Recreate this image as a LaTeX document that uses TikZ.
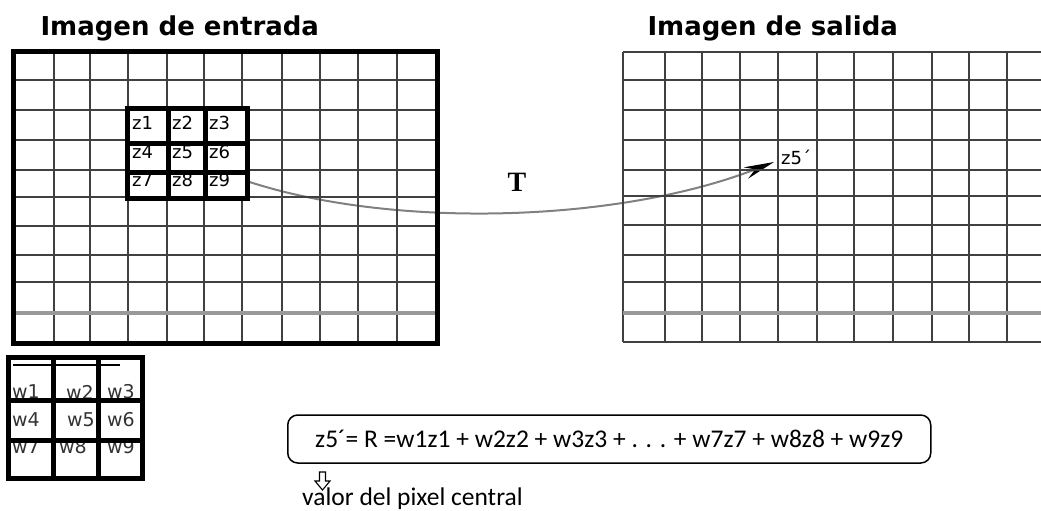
\documentclass[tikz,border=0pt]{standalone}
\usepackage{fontspec}
\setmainfont{DejaVu Sans}
\newfontfamily\calibri{Carlito}
\newfontfamily\serifT{Liberation Serif}
\usetikzlibrary{arrows.meta}

\pgfdeclarelayer{fondo}
\pgfsetlayers{fondo,main}

\newcommand{\fuenteec}{\calibri\fontsize{25.5}{28}\selectfont}

\begin{document}
\begin{tikzpicture}[
      x=1pt, y=-1pt,
      rejilla/.style={draw=black!75, line width=1.9pt},
      gris/.style={draw=black!40, line width=4.5pt},
      marco/.style={draw=black, line width=5pt, line join=miter},
      titulo/.style={anchor=base west, font=\fontsize{26}{30}\selectfont\bfseries},
      zlbl/.style={anchor=west, inner sep=0pt, font=\fontsize{18}{20}\selectfont},
      wlbl/.style={anchor=west, inner sep=0pt, text=black!80, font=\fontsize{19}{21}\selectfont},
      flecha/.style={draw=black!50, line width=2pt, -{Stealth[length=30pt, width=12pt, color=black]}},
      ecuacion/.style={draw, line width=1.5pt, rounded corners=10pt, minimum height=48pt,
        inner xsep=0pt, minimum width=643pt}
    ]
      \useasboundingbox (0,0) rectangle (1041,511);

      % titulos
      \node[titulo] (entrada) at (37,36) {Imagen de entrada};
      \node[titulo] (salida) at (644,36) {Imagen de salida};

      % imagen de entrada
      \foreach \x in {54,90,128,167,204,242,282,320,358,397}
        \draw[rejilla] (\x,52) -- (\x,343);
      \foreach \y in {80,110,140,170,197,226,255,282}
        \draw[rejilla] (13,\y) -- (437,\y);
      \draw[gris] (13,313) -- (437,313);
      \draw[marco] (13,52) rectangle (437,343);

      % imagen de salida
      \foreach \x in {623,665,702,740,778,817,854,893,932,969,1007}
        \draw[rejilla] (\x,52) -- (\x,342);
      \foreach \y in {52,80,110,140,170,196,225,255,282,342}
        \draw[rejilla] (623,\y) -- (1041,\y);
      \draw[gris] (623,313) -- (1041,313);

      % vecindad z
      \fill[white] (127,108) rectangle (247,198);
      \node[zlbl] (z1) at (132,123) {z1};
      \node[zlbl] (z2) at (172,123) {z2};
      \node[zlbl] (z3) at (209,123) {z3};
      \node[zlbl] (z4) at (132,152) {z4};
      \node[zlbl] (z5) at (172,152) {z5};
      \node[zlbl] (z6) at (209,152) {z6};
      \node[zlbl] (z7) at (132,180) {z7};
      \node[zlbl] (z8) at (172,180) {z8};
      \node[zlbl] (z9) at (209,180) {z9};
      \draw[marco] (127,108) rectangle (247,198);
      \draw[marco] (168,108) -- (168,198) (205,108) -- (205,198);
      \draw[marco] (127,143) -- (247,143) (127,172) -- (247,172);

      % transformacion
      \node[font=\serifT\bfseries\fontsize{28}{30}\selectfont] (T) at (517,182) {T};
      \node[anchor=west, inner sep=0pt, font=\fontsize{18}{20}\selectfont] (z5p) at (781,157) {z5´};
      \begin{pgfonlayer}{fondo}
        \draw[flecha] (z5.south east) .. controls (330,230) and (600,230) .. ([shift={(-7,5)}]z5p.west);
      \end{pgfonlayer}

      % mascara w
      \node[wlbl] (w1) at (12,392) {w1};
      \node[wlbl] (w2) at (66,392) {w2};
      \node[wlbl] (w3) at (107,392) {w3};
      \node[wlbl] (w4) at (12,420) {w4};
      \node[wlbl] (w5) at (67,420) {w5};
      \node[wlbl] (w6) at (107,420) {w6};
      \node[wlbl] (w7) at (12,447) {w7};
      \node[wlbl] (w8) at (59,447) {w8};
      \node[wlbl] (w9) at (107,447) {w9};
      \draw[line width=1.2pt] (13,365) -- (120,365);
      \draw[marco] (8,357) rectangle (142,478);
      \draw[marco] (53,357) -- (53,478) (98,357) -- (98,478);
      \draw[marco] (8,400) -- (142,400) (8,440) -- (142,440);

      % ecuacion
      \node[ecuacion, anchor=west] (ec) at (287,439)
        {\fuenteec z5´= R =w1z1 + w2z2 + w3z3 + . . . + w7z7 + w8z8 + w9z9};
      \draw[line width=1.1pt, line join=miter]
        (319.5,472) -- (325.5,472) -- (325.5,481) -- (330,481) -- (322.5,490)
        -- (315,481) -- (319.5,481) -- cycle;
      \node[anchor=base west, inner sep=0pt] (valor) at (302,505) {\fuenteec valor del pixel central};
    \end{tikzpicture}
\end{document}
